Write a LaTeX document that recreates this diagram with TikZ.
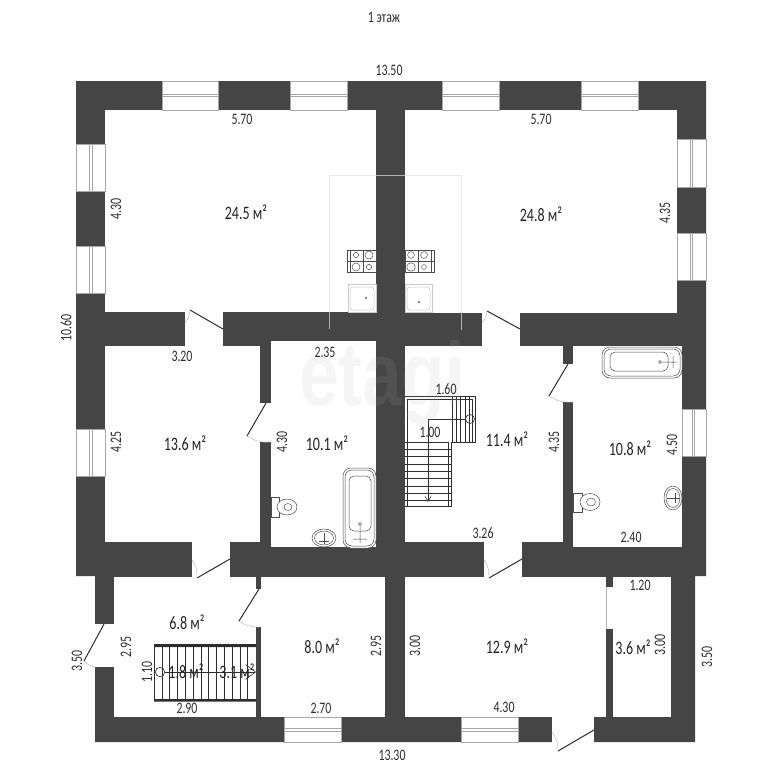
\documentclass[tikz,border=0pt]{standalone}
\usepackage{fontspec}
\usetikzlibrary{arrows.meta}
\newfontfamily\planfont[FakeStretch=0.74]{Carlito}
\newfontfamily\markfont{Liberation Sans}
\definecolor{wallcol}{HTML}{454545}
\definecolor{inkcol}{HTML}{2E2E2E}
\begin{document}
\begin{tikzpicture}[x=1pt, y=-1pt, line join=round, >=stealth]
	\tikzset{
		room/.style={fill=white},
		glass/.style={fill=white, draw=gray!70, line width=.6pt},
		leaf/.style={draw=inkcol, line width=1pt},
		swing/.style={draw=gray!60, line width=.4pt},
		fix/.style={draw=gray!60!black, line width=.5pt, fill=white},
		stair/.style={draw=inkcol, line width=.6pt},
		dim/.style={text=inkcol, font=\planfont\fontsize{16}{17}\selectfont, inner sep=0pt},
		area/.style={text=black!85, font=\planfont\fontsize{19}{20}\selectfont, inner sep=0pt}
	}
	\useasboundingbox (0,0) rectangle (768,768);
	\fill[white] (0,0) rectangle (768,768);
	% walls
	\fill[wallcol] (76,81)--(706,81)--(706,576)--(695,576)--(695,742)--(95,742)--(95,576)--(76,576)--cycle;
	% rooms
	\foreach \xa/\ya/\xb/\yb in {105/110/376/312, 405/110/677/313, 105/346/260/542, 271/341/376/547,
		405/346/563/542, 573/346/682/547, 114/577/256/717, 261/577/385/717, 405/577/606/717, 613/577/671/717}
		{\fill[room] (\xa,\ya) rectangle (\xb,\yb);}
	% windows
	\foreach \xa/\xb in {162/218, 290/347, 442/499, 581/638}{
		\draw[glass] (\xa,81) rectangle (\xb,110);
		\draw[glass] (\xa,94) rectangle (\xb,96.5);
	}
	\foreach \xa/\xb in {284/341, 461/518}{
		\draw[glass] (\xa,717) rectangle (\xb,742);
		\draw[glass] (\xa,728.5) rectangle (\xb,731);
	}
	\foreach \ya/\yb in {144/191, 246/293, 429/476}{
		\draw[glass] (76,\ya) rectangle (105,\yb);
		\draw[glass] (89.5,\ya) rectangle (92,\yb);
	}
	\foreach \ya/\yb in {139/187, 233/280}{
		\draw[glass] (677,\ya) rectangle (706,\yb);
		\draw[glass] (690,\ya) rectangle (692.5,\yb);
	}
	\draw[glass] (682,409) rectangle (706,456);
	\draw[glass] (692,409) rectangle (694.5,456);
	% doors: opening, hinge, leaf end, arc end
	\foreach \xa/\ya/\xb/\yb/\hx/\hy/\ex/\ey/\cx/\cy/\bnd in {
		185/311/223/347/223/329/190/310/185/323/left,
		482/312/520/347/520/329/487/311/482/323/left,
		259/403/272/442/266/403/247/436/271/442/right,
		192/541/230/578/230/559/197/578/192/560/right,
		562/364/574/402/568/364/549/396/573/402/right,
		484/541/522/578/522/559/489/578/484/560/right,
		255/589/262/627/259/589/239/621/261/627/right,
		94/624/115/667/104/624/84/661/95/667/right,
		552/716/594/743/594/730/558/751/552/732/right}{
		\fill[white] (\xa,\ya) rectangle (\xb,\yb);
		\draw[leaf] (\hx,\hy)--(\ex,\ey);
		\draw[swing] (\ex,\ey) to[bend \bnd=18] (\cx,\cy);
	}
	\fill[white] (605,587) rectangle (614,629);
	\draw[swing] (606,587)--(606,629);
	% kitchen outlines
	\draw[gray!18, line width=.5pt] (329,312)--(329,175)--(376,175) (405,175)--(461,175)--(461,313);
	\draw[gray!60!white, line width=.8pt] (376,175)--(405,175) (329,312)--(329,329) (461,313)--(461,330);
	\foreach \xa/\xb in {347/376, 405/434}{
		\draw[fix] (\xa,250) rectangle (\xb,272.5);
	}
	\draw[fix] (350,250)--(350,272.5) (347,261)--(376,261) (363,250)--(363,272.5);
	\draw[fix] (431,250)--(431,272.5) (405,261)--(434,261) (418,250)--(418,272.5);
	\foreach \bx/\by/\br in {356/255/2.6, 369/255/4, 356/267/4, 369/267/2.6, 411/255/3.4, 424/255/3.4, 411/267/4.2, 424/267/2.4}
		{\draw[fix] (\bx,\by) circle[radius=\br];}
	\foreach \xa/\xb/\dx/\dy in {348/376/366/298, 405/432/419/302}{
		\draw[fix, draw=gray!40] (\xa,284.5) rectangle (\xb,312);
		\draw[fix, draw=gray!45, rounded corners=3pt] (\xa+2,287) rectangle (\xb-2,310);
		\fill[gray!70!black] (\dx,\dy) circle[radius=1.1];
	}
	% bath of the left wet room
	\draw[fix, rounded corners=8pt] (343,468) rectangle (376,548);
	\draw[fix, rounded corners=7pt] (345,470) rectangle (374,546);
	\draw[fix, rounded corners=5pt] (349,476) rectangle (371,531);
	\draw[fix] (360,524) circle[radius=1.5] (360,526)--(360,543) (353,539)--(367,539);
	\draw[fix] (271,497) rectangle (279,517);
	\draw[fix] (287,507) ellipse[x radius=10, y radius=8];
	\draw[fix] (288,507) ellipse[x radius=4, y radius=3.5];
	\draw[fix] (324,538) ellipse[x radius=12, y radius=9];
	\draw[fix] (324,538) ellipse[x radius=9.5, y radius=7];
	\draw[fix] (324,533)--(324,544) (319,541)--(329,541);
	% bath of the right wet room
	\draw[fix, rounded corners=8pt] (602,347) rectangle (682,378);
	\draw[fix, rounded corners=7pt] (604,349) rectangle (680,376);
	\draw[fix, rounded corners=5pt] (610,352) rectangle (668,371);
	\draw[fix] (660,362) circle[radius=1.5] (662,362)--(677,362) (673,356)--(673,368);
	\draw[fix] (573,493) rectangle (582,512);
	\draw[fix] (590,502) ellipse[x radius=10, y radius=8.5];
	\draw[fix] (591,502) ellipse[x radius=4.5, y radius=4];
	\draw[fix] (673,498) ellipse[x radius=9, y radius=12];
	\draw[fix] (673,498) ellipse[x radius=7, y radius=9.5];
	\draw[fix] (667,498)--(680,498) (675,493)--(675,503);
	% stairs to the upper floor
	\draw[stair, line width=1pt] (405,396)--(475,396)--(475,442)--(451,442)--(451,506)--(405,506);
	\draw[stair] (407,506)--(407,399)--(472.5,399)--(472.5,442) (448.5,442)--(448.5,506) (405,442.5)--(448.5,442.5);
	\foreach \x in {452,456,460,465,469}{\draw[stair] (\x,396)--(\x,442);}
	\foreach \y in {449,456,464,471,478,486,493,500}{\draw[stair] (405,\y)--(451,\y);}
	\draw[stair, ->, >={Straight Barb[length=5pt,width=6pt]}] (465.5,419)--(428,419)--(428,502);
	\draw[stair, fill=none] (470,419) circle[radius=4.5];
	% stairs in the hall
	\fill[inkcol] (154,644) rectangle (256,647) (154,699) rectangle (256,701.5);
	\foreach \i in {0,...,12}{\draw[stair] (154+\i*7.8,647)--(154+\i*7.8,699);}
	\draw[stair, ->, >={Straight Barb[length=10pt,width=15pt]}] (164.5,672)--(256,672);
	\draw[stair] (160,672) circle[radius=4.7];
	% watermark
	\node[anchor=base west, xscale=.79, inner sep=0pt, opacity=.12, text=gray!60] (wmark) at (299,405)
		{\markfont\bfseries\fontsize{90}{90}\selectfont etagi};
	% areas
	\foreach \lx/\ly/\txt [count=\i] in {246/212/24.5, 541/214/24.8, 185/443/13.6, 327/443/10.1, 507/439/11.4,
		630/448/10.8, 187/622/6.8, 322/646/8.0, 507/646/12.9, 633/647/3.6, 186/671/1.8, 237/671/3.1}
		{\node[area] (area\i) at (\lx,\ly) {\txt{} м²};}
	% lengths
	\foreach \lx/\ly/\txt/\ang [count=\i] in {389/70/13.50/0, 242/119/5.70/0, 541/119/5.70/0, 116/209/4.30/90, 665/213/4.35/90,
		66/328/10.60/90, 182/356/3.20/0, 325/352/2.35/0, 116/442/4.25/90, 282/442/4.30/90, 446/389/1.60/0, 430/432/1.00/0,
		554/442/4.35/90, 672/445/4.50/90, 483/533/3.26/0, 631/537/2.40/0, 126/647/2.95/90, 77/661/3.50/90, 147/672/1.10/90,
		187/708/2.90/0, 376/646/2.95/90, 321/708/2.70/0, 392/755/13.30/0, 415/646/3.00/90, 640/585/1.20/0, 660/645/3.00/90,
		707/657/3.50/90, 504/707/4.30/0}
		{\node[dim, rotate=\ang] (dim\i) at (\lx,\ly) {\txt};}
	\node[dim] (floor) at (384,17) {1 этаж};
\end{tikzpicture}
\end{document}
